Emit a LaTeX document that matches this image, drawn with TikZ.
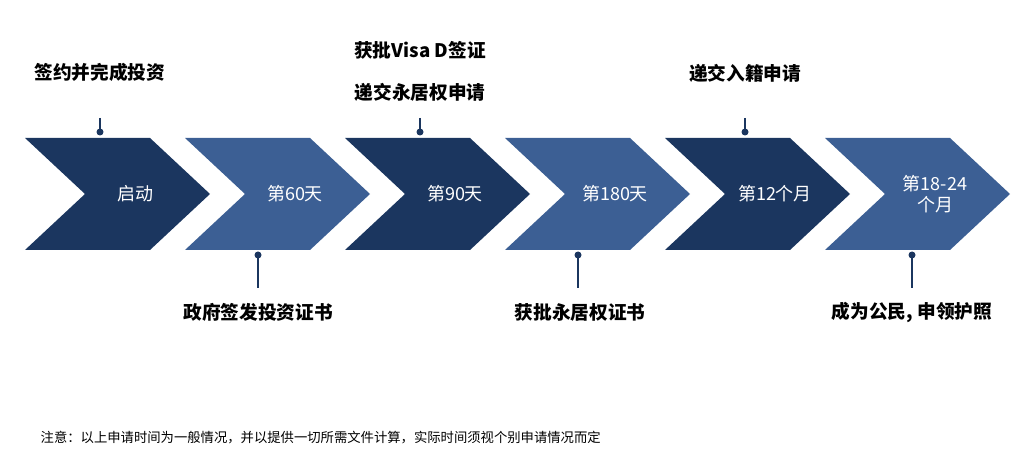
\documentclass[tikz,border=0pt]{standalone}
\usepackage{fontspec}
\setmainfont{Noto Sans CJK SC}
\definecolor{navy}{HTML}{1B365F}
\definecolor{steel}{HTML}{3C5F94}
\tikzset{
  stage/.style={text=white,font=\fontsize{13.5}{16}\selectfont,align=center},
  milestone/.style={font=\fontsize{14}{17}\selectfont\bfseries,text=black},
  pin/.style={line width=1.2pt,color=navy},
}
\begin{document}
\begin{tikzpicture}[x=0.75pt,y=-0.75pt]
\useasboundingbox (0,0) rectangle (1036,463);
%%%%% chevrons
\foreach \k/\col/\txt in {0/navy/启动,1/steel/第60天,2/navy/第90天,3/steel/第180天,4/navy/第12个月,5/steel/{第18-24\\个月}}{
  \pgfmathsetmacro{\xo}{25+160*\k}
  \fill[\col] (\xo,138) -- ++(125,0) -- ++(60,56) -- ++(-60,56) -- ++(-125,0) -- ++(60,-56) -- cycle;
  \node[stage] (s\k) at (\xo+110,194) {\txt};
}
%%%%% above
\foreach \x/\n in {100/a,420/b,745/c}{
  \coordinate (top\n) at (\x,118);
  \fill[navy] (\x,132) circle (3.5);
  \draw[pin] (top\n) -- (\x,132);
}
\node[milestone] (ma) at (100,72) {签约并完成投资};
\node[milestone] (mb) at (420,50) {获批Visa D签证};
\node[milestone] (mb2) at (420,92) {递交永居权申请};
\node[milestone] (mc) at (745,73) {递交入籍申请};
%%%%% below
\foreach \x/\n in {258/a,578/b,912/c}{
  \coordinate (bot\n) at (\x,288);
  \fill[navy] (\x,255) circle (3.5);
  \draw[pin] (\x,255) -- (bot\n);
}
\node[milestone] (na) at (258,312) {政府签发投资证书};
\node[milestone] (nb) at (580,312) {获批永居权证书};
\node[milestone] (nc) at (912,312) {成为公民, 申领护照};
%%%%% note
\node[anchor=west,font=\fontsize{10}{12}\selectfont] (note) at (36,438) {注意：以上申请时间为一般情况，并以提供一切所需文件计算，实际时间须视个别申请情况而定};
\end{tikzpicture}
\end{document}
